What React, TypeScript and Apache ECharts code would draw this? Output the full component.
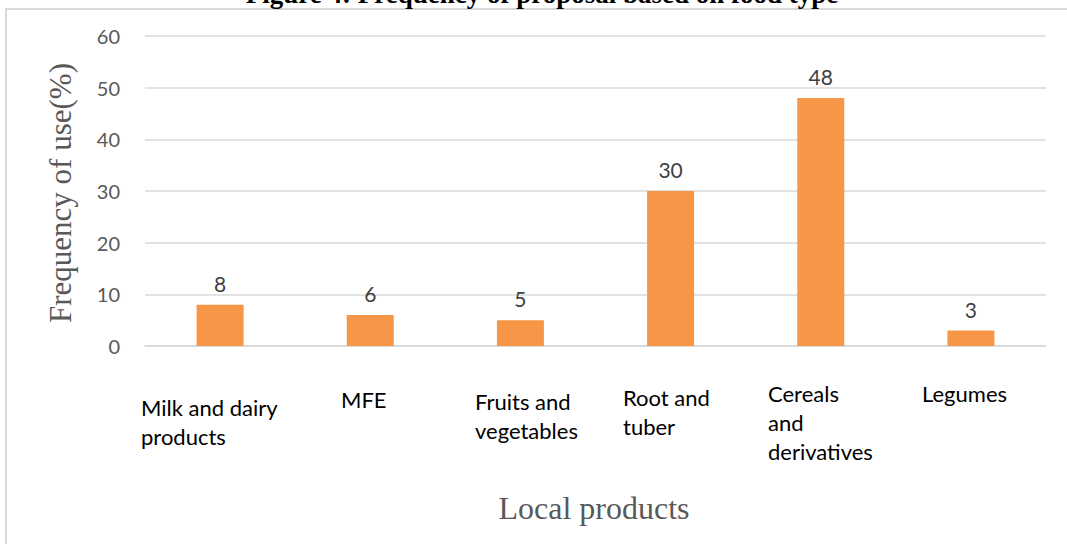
import React, { useEffect, useRef } from "react";
import * as echarts from "echarts";

// Food types and how often each was proposed (%)
const categories: string[] = [
  "Milk and dairy\nproducts",
  "MFE",
  "Fruits and\nvegetables",
  "Root and\ntuber",
  "Cereals\nand\nderivatives",
  "Legumes",
];
const frequency: number[] = [8, 6, 5, 30, 48, 3];
const yTicks: number[] = [0, 10, 20, 30, 40, 50, 60];

const titleText = "Figure 4: Frequency of proposal based on food type";
const yTitle = "Frequency of use(%)";
const xTitle = "Local products";

// Hand-placed category label boxes (left edge, first-line centre)
const labelSpots: [number, number][] = [
  [141, 407],
  [341, 399],
  [475, 401],
  [623, 397],
  [768, 393],
  [922, 393],
];

const SANS = "Lato, 'Open Sans', sans-serif";
const SERIF = "'Liberation Serif', 'DejaVu Serif', serif";

export default function App() {
  const ref = useRef<HTMLDivElement>(null);

  useEffect(() => {
    if (!ref.current) return;
    const chart = echarts.init(ref.current, null, { renderer: "svg" });

    const labelTexts = categories.map((c, i) => ({
      type: "text",
      left: labelSpots[i][0],
      top: labelSpots[i][1] - 14.5,
      style: {
        text: c,
        fill: "#000000",
        font: `22px ${SANS}`,
        lineHeight: 29,
      },
    }));

    chart.setOption({
      animation: false,
      backgroundColor: "#ffffff",
      grid: { left: 145, right: 21, top: 36, bottom: 198 },
      xAxis: {
        type: "category",
        data: categories,
        axisLine: { show: true, lineStyle: { color: "#d9d9d9", width: 1.5 } },
        axisTick: { show: false },
        axisLabel: { show: false },
      },
      yAxis: {
        type: "value",
        min: yTicks[0],
        max: yTicks[yTicks.length - 1],
        interval: 10,
        axisLine: { show: false },
        axisTick: { show: false },
        axisLabel: {
          color: "#595959",
          fontFamily: SANS,
          fontSize: 20,
          margin: 25,
        },
        splitLine: { lineStyle: { color: "#d9d9d9", width: 1.5 } },
      },
      series: [
        {
          type: "bar",
          data: frequency,
          barWidth: 47,
          itemStyle: { color: "#F79646" },
          label: {
            show: true,
            position: "top",
            distance: 11,
            color: "#404040",
            fontFamily: SANS,
            fontSize: 21,
          },
        },
      ],
      graphic: [
        {
          type: "rect",
          shape: { x: 6, y: 9, width: 1200, height: 700 },
          style: { fill: "none", stroke: "#d9d9d9", lineWidth: 2 },
          silent: true,
        },
        {
          type: "text",
          x: 542,
          y: -6,
          style: {
            text: titleText,
            fill: "#000000",
            font: `bold 27px ${SERIF}`,
            align: "center",
            verticalAlign: "middle",
          },
        },
        {
          type: "text",
          x: 60,
          y: 193,
          rotation: Math.PI / 2,
          style: {
            text: yTitle,
            fill: "#595959",
            font: `31px ${SERIF}`,
            align: "center",
            verticalAlign: "middle",
          },
        },
        {
          type: "text",
          x: 594,
          y: 508,
          style: {
            text: xTitle,
            fill: "#595959",
            font: `32px ${SERIF}`,
            align: "center",
            verticalAlign: "middle",
          },
        },
        ...labelTexts,
      ],
    });

    return () => chart.dispose();
  }, []);

  return (
    <div
      ref={ref}
      style={{ position: "fixed", left: 0, top: 0, width: 1067, height: 544 }}
    />
  );
}
